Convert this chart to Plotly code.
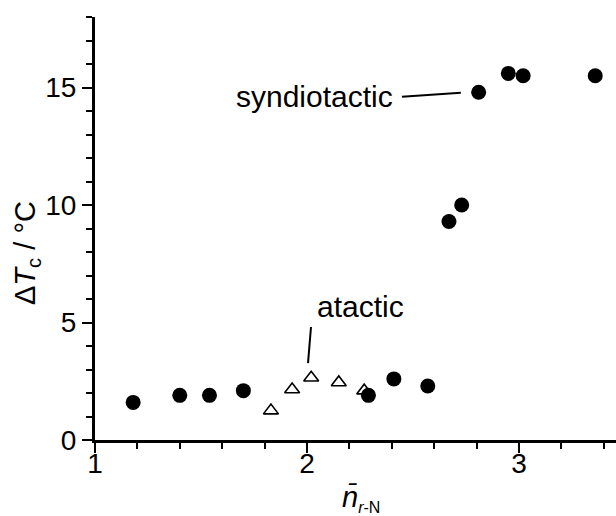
import plotly.graph_objects as go

# Syndiotactic samples (filled circles)
synd_n = [1.18, 1.40, 1.54, 1.70, 2.29, 2.41, 2.57, 2.67, 2.73, 2.81, 2.95, 3.02, 3.36]
synd_dT = [1.6, 1.9, 1.9, 2.1, 1.9, 2.6, 2.3, 9.3, 10.0, 14.8, 15.6, 15.5, 15.5]

# Atactic samples (open triangles)
atac_n = [1.83, 1.93, 2.02, 2.15, 2.27]
atac_dT = [1.25, 2.15, 2.65, 2.45, 2.1]

x_ticks = [1, 2, 3]
y_ticks = [0, 5, 10, 15]

FONT = "Liberation Sans, Arial, Helvetica, sans-serif"
FS = 29
TICK_FS = 28

fig = go.Figure()
fig.add_trace(go.Scatter(
    x=atac_n, y=atac_dT, mode="markers",
    marker=dict(symbol="triangle-up-open", size=13, color="black",
                line=dict(width=1.6, color="black")),
    showlegend=False, cliponaxis=False,
))
fig.add_trace(go.Scatter(
    x=synd_n, y=synd_dT, mode="markers",
    marker=dict(symbol="circle", size=15, color="black",
                line=dict(width=0)),
    showlegend=False, cliponaxis=False,
))

axis_common = dict(
    showgrid=False, zeroline=False, showline=True, linecolor="black",
    linewidth=3, ticks="outside", tickwidth=2, ticklen=10, tickcolor="black",
    tickfont=dict(family=FONT, size=TICK_FS, color="black"),
)

fig.update_xaxes(
    range=[1, 3.458], tickmode="array", tickvals=x_ticks,
    ticktext=[str(v) for v in x_ticks], ticklabelstandoff=-14,
    minor=dict(dtick=0.2, tick0=1, ticks="outside", ticklen=6, tickwidth=2,
               tickcolor="black"),
    **axis_common,
)
fig.update_yaxes(
    range=[0, 18], tickmode="array", tickvals=y_ticks,
    ticktext=[str(v) for v in y_ticks],
    minor=dict(dtick=1, tick0=0, ticks="outside", ticklen=6, tickwidth=2,
               tickcolor="black"),
    **axis_common,
)

# Leader lines from labels to the marked points
fig.add_shape(type="line", x0=2.448, y0=14.61, x1=2.726, y1=14.78,
              line=dict(color="black", width=2))
fig.add_shape(type="line", x0=2.019, y0=4.81, x1=2.005, y1=3.27,
              line=dict(color="black", width=2))

fig.add_annotation(x=2.415, y=14.62, text="syndiotactic", showarrow=False,
                   xanchor="right", yanchor="middle",
                   font=dict(family=FONT, size=30, color="black"))
fig.add_annotation(x=2.038, y=5.67, text="atactic", showarrow=False,
                   xanchor="left", yanchor="middle",
                   font=dict(family=FONT, size=30, color="black"))

# Axis titles
fig.add_annotation(
    xref="paper", yref="paper", x=(361 - 95) / 521, y=-(498 - 440) / 423,
    text="<i>n\u0304</i><sub><span style='font-size:16px'><i>r</i>-N</span></sub>",
    showarrow=False, xanchor="center", yanchor="middle",
    font=dict(family=FONT, size=FS, color="black"),
)
fig.add_annotation(
    xref="paper", yref="paper", x=-(95 - 27) / 521, y=(440 - 253) / 423,
    text="\u0394<i>T</i><sub>c</sub> / \u00b0C", textangle=-90,
    showarrow=False, xanchor="center", yanchor="middle",
    font=dict(family=FONT, size=FS, color="black"),
)

fig.update_layout(
    width=616, height=516,
    margin=dict(l=95, r=0, t=17, b=76),
    paper_bgcolor="white", plot_bgcolor="white",
    font=dict(family=FONT, color="black"),
)

fig.write_html("out.html")
